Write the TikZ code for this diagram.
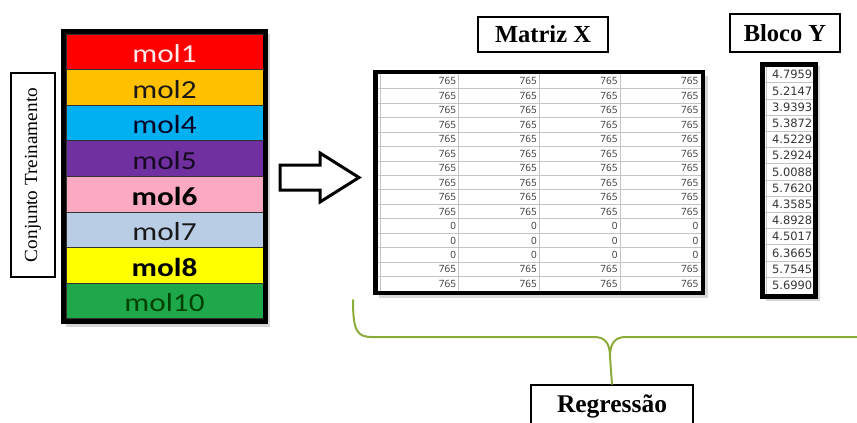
\documentclass[tikz,border=0pt]{standalone}
\usepackage{fontspec}
\usepackage{graphicx}
\setmainfont{Liberation Serif}
\newfontfamily\calfont{Carlito}
\newfontfamily\cellfont{Open Sans}
\newfontfamily\numfont{DejaVu Sans}

\definecolor{mred}{HTML}{FF0000}
\definecolor{morange}{HTML}{FFC000}
\definecolor{mcyan}{HTML}{00B0F0}
\definecolor{mpurple}{HTML}{7030A0}
\definecolor{mpink}{HTML}{FBAAC2}
\definecolor{mgrayblue}{HTML}{B9CDE5}
\definecolor{myellow}{HTML}{FFFF00}
\definecolor{mgreen}{HTML}{1FA84A}
\definecolor{bracegreen}{RGB}{140,172,58}
\definecolor{cellgrid}{HTML}{C4C4C4}
\definecolor{celltext}{HTML}{363636}

\begin{document}
\begin{tikzpicture}[x=1pt,y=-1pt,
  hdr/.style={draw=black, line width=1.6pt, fill=white, inner sep=0pt,
    font=\fontsize{24.5}{24.5}\selectfont\bfseries},
  molbar/.style={minimum width=197pt, minimum height=35.6pt, inner sep=0pt,
    draw=black!80, line width=0.9pt},
  moltext/.style={font=\calfont\fontsize{26}{26}\selectfont, yshift=-2pt},
  frameline/.style={draw=black, line width=5pt},
  shadowbox/.style={fill=black!16},
  gridline/.style={draw=cellgrid, line width=0.6pt},
  xcell/.style={anchor=base east, inner sep=0pt, text=celltext,
    font=\cellfont\fontsize{10}{10}\selectfont},
  ycell/.style={anchor=base east, inner sep=0pt, text=celltext,
    font=\numfont\fontsize{11.5}{11.5}\selectfont},
  bracepath/.style={draw=bracegreen, line width=2pt, line cap=round, line join=round}
]
\useasboundingbox (0,0) rectangle (857,423);
\clip (0,0) rectangle (857,423);

% ---------- training set: coloured molecule bars ----------
\fill[shadowbox] (66,34) rectangle (270,327);
\node[molbar, fill=mred]      (m1)  at (164.5, 51.8) {};
\node[molbar, fill=morange]   (m2)  at (164.5, 87.4) {};
\node[molbar, fill=mcyan]     (m4)  at (164.5,123.0) {};
\node[molbar, fill=mpurple]   (m5)  at (164.5,158.6) {};
\node[molbar, fill=mpink]     (m6)  at (164.5,194.2) {};
\node[molbar, fill=mgrayblue] (m7)  at (164.5,229.8) {};
\node[molbar, fill=myellow]   (m8)  at (164.5,265.4) {};
\node[molbar, fill=mgreen]    (m10) at (164.5,301.0) {};

\node[moltext, text=red!8]        at (m1)  {\scalebox{1.2}[1]{mol1}};
\node[moltext, text=black!90]     at (m2)  {\scalebox{1.2}[1]{mol2}};
\node[moltext, text=black!85!blue] at (m4) {\scalebox{1.2}[1]{mol4}};
\node[moltext, text=black!80!mpurple] at (m5) {\scalebox{1.2}[1]{mol5}};
\node[moltext, text=black]        at (m6)  {\scalebox{1.2}[1]{\bfseries mol6}};
\node[moltext, text=black!90]     at (m7)  {\scalebox{1.2}[1]{mol7}};
\node[moltext, text=black]        at (m8)  {\scalebox{1.2}[1]{\bfseries mol8}};
\node[moltext, text=black!75!green] at (m10) {\scalebox{1.2}[1]{mol10}};

\draw[frameline] (63.5,31.5) rectangle (265.5,321.5);

% side label
\node[draw=black, line width=1.3pt, rotate=90, minimum width=204pt,
      minimum height=44pt, inner sep=0pt,
      font=\fontsize{18.5}{18.5}\selectfont] (conj) at (33,175)
      {\scalebox{1.04}[1]{Conjunto Treinamento}};

% ---------- block arrow ----------
\draw[line width=3pt, line join=miter, fill=white]
  (280,165) -- (320,165) -- (320,153) -- (359,177.5) -- (320,202)
  -- (320,190) -- (280,190) -- cycle;

% ---------- matrix X ----------
\node[hdr, minimum width=130pt, minimum height=35pt] (hx) at (543,34.5) {Matriz X};

\fill[shadowbox] (379,76) rectangle (708,298);
\fill[white] (375.5,72) rectangle (703,293);
\foreach \k in {1,...,14}
  \draw[gridline] (378,{74+\k*14.47}) -- (701,{74+\k*14.47});
\foreach \c in {1,2,3}
  \draw[gridline] ({378+\c*80.75},74) -- ({378+\c*80.75},291);
\draw[gridline] (380,74) -- (380,291);
\foreach \r/\v in {1/765,2/765,3/765,4/765,5/765,6/765,7/765,8/765,
                   9/765,10/765,11/0,12/0,13/0,14/765,15/765}
  \foreach \c in {1,2,3,4}
    \node[xcell] (x-\r-\c) at ({378+\c*80.75-2.5},{74+(\r-0.5)*14.47+3.6}) {\v};
\draw[frameline, line width=4.5pt] (375.5,72) rectangle (703,293);

% ---------- block Y ----------
\node[hdr, minimum width=110pt, minimum height=38pt] (hy) at (785,33) {Bloco Y};

\fill[shadowbox] (766,66) rectangle (820,301);
\fill[white] (762,64) rectangle (815.5,296);
\foreach \k in {1,...,13}
  \draw[gridline] (764.5,{66.5+\k*16.2}) -- (813,{66.5+\k*16.2});
\draw[gridline] (766,66.5) -- (766,293.5);
\foreach \r/\v in {1/4.7959,2/5.2147,3/3.9393,4/5.3872,5/4.5229,6/5.2924,
                   7/5.0088,8/5.7620,9/4.3585,10/4.8928,11/4.5017,12/6.3665,
                   13/5.7545,14/5.6990}
  \node[ycell] (y-\r) at (812.5,{66.5+(\r-0.5)*16.2+4.2}) {\v};
\draw[frameline] (762,64) rectangle (815.5,296);

% ---------- regression brace ----------
\node[draw=black, line width=1.6pt, fill=white, anchor=north, inner sep=0pt,
      minimum width=162pt, text height=28pt, text depth=22pt,
      font=\fontsize{25.5}{25.5}\selectfont\bfseries] (reg) at (612,384) {Regressão};

\coordinate (bl) at (353,300);
\coordinate (br) at (875,337);
\coordinate (bt) at (610,357);
\draw[bracepath] (bl) .. controls (353,331) and (357,337) .. (372,337)
  -- (594,337) .. controls (605,337) and (610,343) .. (bt);
\draw[bracepath] (br) -- (626,337) .. controls (615,337) and (610,343) .. (bt);
\draw[bracepath] (bt) -- (reg.north);
\end{tikzpicture}
\end{document}
